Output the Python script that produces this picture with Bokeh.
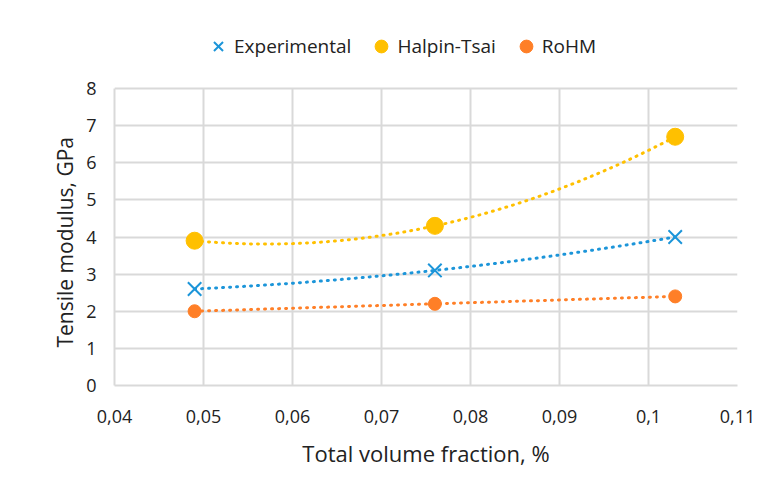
import numpy as np
from bokeh.plotting import figure
from bokeh.models import (FixedTicker, CustomJSTickFormatter, Legend, LegendItem, Title)
from bokeh.embed import file_html
from bokeh.resources import INLINE

# ---- data ----
x_vals = [0.049, 0.076, 0.103]
experimental = [2.6, 3.1, 4.0]
halpin_tsai = [3.9, 4.3, 6.7]
rohm = [2.0, 2.2, 2.4]

x_ticks = [0.04, 0.05, 0.06, 0.07, 0.08, 0.09, 0.10, 0.11]
y_ticks = [0, 1, 2, 3, 4, 5, 6, 7, 8]

c_exp = "#1C95D9"
c_ht = "#FFC000"
c_ro = "#FF7F27"
FONT = "Open Sans"

# frame: y=0 at 385 px, y=8 at 88 px; extend frame upward to hold the legend
TOP_PAD = 8
FRAME_TOP = 88
frame_h = 385 - TOP_PAD
y_end = 8 * frame_h / (385 - FRAME_TOP)

p = figure(width=769, height=493, output_backend="svg", toolbar_location=None,
           x_range=(0.04, 0.11), y_range=(0, y_end),
           min_border_left=114, min_border_right=32,
           min_border_top=TOP_PAD, min_border_bottom=108)
p.outline_line_color = None
p.background_fill_color = "white"
p.border_fill_color = "white"

for ax in (p.xaxis, p.yaxis):
    ax.axis_line_color = "#D9D9D9"
    ax.axis_line_width = 2
    ax.major_tick_line_color = None
    ax.minor_tick_line_color = None
    ax.major_label_text_font = FONT
    ax.major_label_text_font_size = "18px"
    ax.major_label_text_color = "#222222"
    ax.axis_label_text_font = FONT
    ax.axis_label_text_font_size = "22px"
    ax.axis_label_text_font_style = "normal"
    ax.axis_label_text_color = "#222222"

p.yaxis.bounds = (0, 8)
p.xaxis.ticker = FixedTicker(ticks=x_ticks)
p.yaxis.ticker = FixedTicker(ticks=y_ticks)
p.xaxis.formatter = CustomJSTickFormatter(
    code="var s = tick.toFixed(2).replace(/0+$/, ''); return s.replace('.', ',');")
p.xaxis.major_label_standoff = 18
p.yaxis.major_label_standoff = 12
p.xaxis.axis_label = "Total volume fraction, %"
p.xaxis.axis_label_standoff = 12

# y-axis title placed along the 0..8 part of the frame
ytitle = Title(text="Tensile modulus, GPa", align="left", offset=38,
               text_font=FONT, text_font_size="21px", text_font_style="normal",
               text_color="#222222", standoff=10)
p.add_layout(ytitle, "left")

p.xgrid.grid_line_color = "#D9D9D9"
p.ygrid.grid_line_color = "#D9D9D9"
p.xgrid.grid_line_width = 2
p.ygrid.grid_line_width = 2
p.xgrid.cross_bounds = (0, 8)

# quadratic trendlines (through the data points)
xs = np.linspace(x_vals[0], x_vals[-1], 200)
for ys, col in ((halpin_tsai, c_ht), (experimental, c_exp), (rohm, c_ro)):
    coef = np.polyfit(x_vals, ys, 2)
    p.line(xs, np.polyval(coef, xs), line_color=col, line_width=3,
           line_dash="1 6", line_cap="round")

r_exp = p.scatter(x_vals, experimental, marker="x", size=19, line_color=c_exp,
                  line_width=2)
r_ht = p.scatter(x_vals, halpin_tsai, marker="circle", size=17, fill_color=c_ht,
                 line_color=c_ht)
r_ro = p.scatter(x_vals, rohm, marker="circle", size=13, fill_color=c_ro,
                 line_color=c_ro)

legend = Legend(items=[LegendItem(label="Experimental", renderers=[r_exp]),
                       LegendItem(label="Halpin-Tsai", renderers=[r_ht]),
                       LegendItem(label="RoHM", renderers=[r_ro])],
                orientation="horizontal", location=(88, frame_h - 54),
                label_text_font=FONT, label_text_font_size="19px",
                label_text_color="#222222",
                glyph_width=32, glyph_height=32, label_standoff=-4, spacing=14,
                padding=0, margin=0,
                border_line_color=None, background_fill_alpha=0)
p.add_layout(legend, "center")

open("out.html", "w").write(file_html(p, INLINE))
